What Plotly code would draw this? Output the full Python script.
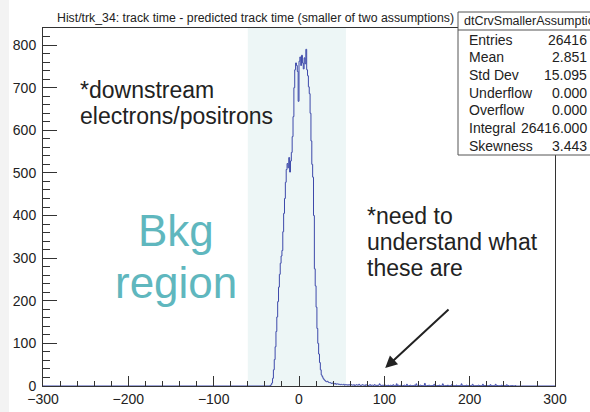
"""dtCrvSmallerAssumption histogram (ROOT style) recreated with Plotly."""
import numpy as np
import plotly.graph_objects as go

# 1 ns bins; first bin starts at -35 ns, everything outside is empty
bin_start = -35
peak_counts = [
    0, 1, 3, 7, 18, 38, 62, 92, 128, 162,          # -35 .. -26
    198, 232, 262, 288, 305, 318, 362, 405, 440, 478,  # -25 .. -16
    508, 522, 512, 536, 502, 528, 548, 585, 632, 700,  # -15 .. -6
    742, 758, 752, 738, 668, 762, 772, 752, 776, 758,  # -5 .. 4
    744, 770, 756, 790, 742, 728, 702, 686, 640, 575,  # 5 .. 14
    520, 490, 400, 275, 235, 185, 135, 100, 75, 55,    # 15 .. 24
    38, 26, 22, 18, 15, 13, 11, 10, 11, 9,             # 25 .. 34
    8, 8, 7, 6, 7,                                     # 35 .. 39
]
tail_counts = [
    6, 5, 6, 4, 5, 5, 4, 4, 3, 4, 3, 3, 4, 2, 3, 3, 2, 3, 2, 3,   # 40 .. 59
    2, 3, 2, 2, 3, 1, 2, 3, 2, 2, 4, 2, 1, 2, 3, 2, 2, 1, 3, 2,   # 60 .. 79
    2, 1, 2, 3, 1, 2, 2, 1, 3, 2, 1, 2, 1, 2, 5, 2, 1, 2, 1, 2,   # 80 .. 99
    1, 2, 1, 1, 2, 0, 1, 2, 1, 1, 3, 1, 1, 0, 5, 1, 2, 1, 1, 2,   # 100 .. 119
    1, 0, 1, 2, 1, 1, 4, 1, 0, 1, 2, 1, 1, 0, 1, 2, 1, 5, 1, 1,   # 120 .. 139
    0, 1, 2, 1, 1, 0, 1, 6, 1, 0, 1, 1, 2, 1, 0, 1, 1, 0, 4, 1,   # 140 .. 159
    1, 0, 1, 1, 2, 0, 1, 1, 5, 1, 0, 1, 1, 0, 2, 1, 0, 1, 1, 4,   # 160 .. 179
    0, 1, 1, 0, 2, 1, 1, 0, 1, 1, 5, 0, 1, 1, 0, 1, 2, 0, 1, 1,   # 180 .. 199
    1, 0, 1, 4, 1, 0, 1, 1, 0, 1, 2, 1, 0, 1, 1, 4, 0, 1, 1, 0,   # 200 .. 219
    1, 1, 0, 1, 3, 0, 1, 1, 0, 1, 4, 0, 1, 0, 1, 1, 0, 2, 1, 0,   # 220 .. 239
    1, 0, 1, 3, 0, 1, 0, 0, 1, 0, 1, 0, 0, 1, 0, 0, 0, 0, 0, 0,   # 240 .. 259
    0,
]

stat_labels = ["Entries", "Mean", "Std Dev", "Underflow", "Overflow", "Integral", "Skewness"]
stat_values = ["26416", "2.851", "15.095", "0.000", "0.000", "26416.000", "3.443"]

title_text = "Hist/trk_34: track time - predicted track time (smaller of two assumptions)"
stats_name = "dtCrvSmallerAssumptions"

FONT = "Liberation Sans, Arial, sans-serif"
LINE_C = "#3d49aa"
TEAL = "#5fb7be"

counts = np.array(peak_counts + tail_counts, dtype=float)
edges = bin_start + np.arange(len(counts) + 1)
# step outline from -300 to 300 (zeros outside the filled range)
xs = np.concatenate([[-300], edges, [300]])
ys = np.concatenate([[0], counts, [0, 0]])

fig = go.Figure()
fig.add_trace(go.Scatter(
    x=xs, y=ys, mode="lines", line=dict(color=LINE_C, width=1, shape="hv"),
    hoverinfo="skip", showlegend=False,
))

# plot area in pixels: x 43..555, y 28..386
L, R, T, B = 43, 555, 28, 386


def px(x):
    return (x - L) / (R - L)


def py(y):
    return (B - y) / (B - T)


shapes = [
    # background region band
    dict(type="rect", xref="x", yref="paper", x0=-60, x1=55, y0=0, y1=1,
         fillcolor="#edf6f6", line_width=0, layer="below"),
    # faint grey strip at the left edge of the screenshot
    dict(type="rect", xref="paper", yref="paper", x0=px(0), x1=px(9), y0=py(412), y1=py(0),
         fillcolor="#f3f3f3", line_width=0, layer="below"),
    # stats box
    dict(type="rect", xref="paper", yref="paper", x0=px(458), x1=px(600), y0=py(155), y1=py(12),
         fillcolor="white", line=dict(color="#555", width=1), layer="above"),
    dict(type="line", xref="paper", yref="paper", x0=px(458), x1=px(600), y0=py(30), y1=py(30),
         line=dict(color="#555", width=1), layer="above"),
]

ann = [
    dict(text=title_text, xref="paper", yref="paper", x=px(255), y=py(18),
         xanchor="center", yanchor="middle", showarrow=False,
         font=dict(size=12.3, color="#222", family=FONT)),
    dict(text=stats_name, xref="paper", yref="paper", x=px(462), y=py(21),
         xanchor="left", yanchor="middle", showarrow=False,
         font=dict(size=12.5, color="#222", family=FONT)),
]
row_y = [40, 57, 75, 93, 110, 128, 146]
for lab, val, yy in zip(stat_labels, stat_values, row_y):
    ann.append(dict(text=lab, xref="paper", yref="paper", x=px(467), y=py(yy),
                    xanchor="left", yanchor="middle", showarrow=False,
                    font=dict(size=14, color="#222", family=FONT)))
    ann.append(dict(text=val, xref="paper", yref="paper", x=px(589), y=py(yy),
                    xanchor="right", yanchor="middle", showarrow=False,
                    font=dict(size=14, color="#222", family=FONT)))

# slide annotations
for txt, x, y in [("*downstream", 78, 90), ("electrons/positrons", 78, 116),
                  ("*need to", 365, 216), ("understand what", 365, 242), ("these are", 365, 268)]:
    ann.append(dict(text=txt, xref="paper", yref="paper", x=px(x), y=py(y),
                    xanchor="left", yanchor="middle", showarrow=False,
                    font=dict(size=23, color="#222", family=FONT)))
for txt, y in [("Bkg", 230), ("region", 282)]:
    ann.append(dict(text=txt, xref="paper", yref="paper", x=px(176), y=py(y),
                    xanchor="center", yanchor="middle", showarrow=False,
                    font=dict(size=44, color=TEAL, family=FONT)))
ann.append(dict(text="", x=101, y=42, xref="x", yref="y", ax=177, ay=183,
                axref="x", ayref="y", showarrow=True, arrowhead=2, arrowsize=1.2,
                arrowwidth=2, arrowcolor="#222"))

axis_common = dict(
    showline=True, linecolor="#333", linewidth=1, mirror=True, showgrid=False,
    zeroline=False, ticks="inside", tickcolor="#333", automargin=False,
    tickfont=dict(size=14, color="#222", family=FONT),
)
fig.update_layout(
    template="none",
    width=590, height=412, autosize=False,
    margin=dict(l=L, r=590 - R, t=T, b=412 - B, pad=0),
    paper_bgcolor="white", plot_bgcolor="white",
    shapes=shapes, annotations=ann, showlegend=False,
    xaxis=dict(range=[-300, 300], dtick=100, ticklen=10,
               minor=dict(dtick=20, ticks="inside", ticklen=5, tickcolor="#333"),
               **axis_common),
    yaxis=dict(range=[0, 840], dtick=100, ticklen=14, ticklabelstandoff=3,
               minor=dict(dtick=20, ticks="inside", ticklen=7, tickcolor="#333"),
               **axis_common),
)

# page body margin would push the 590x412 figure off the window
fig.write_html("out.html", config={"displayModeBar": False},
               post_script="document.body.style.margin='0';")
